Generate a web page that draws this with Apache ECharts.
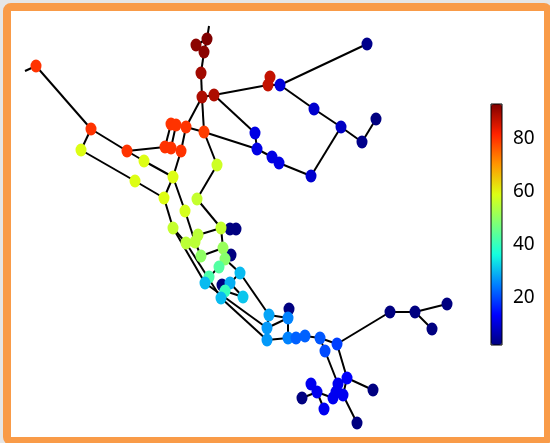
<!DOCTYPE html>
<html>
<head>
<meta charset="utf-8">
<script src="https://cdn.jsdelivr.net/npm/echarts@6/dist/echarts.min.js"></script>
<style>
html,body{margin:0;padding:0;width:550px;height:443px;overflow:hidden;background:#e6e6e6;}
#frame{position:absolute;left:3px;top:3px;width:549px;height:442px;box-sizing:border-box;border:8px solid #f99b48;border-radius:8px;background:#fff;}
#chart{position:absolute;left:0;top:0;width:550px;height:443px;}
</style>
</head>
<body>
<div id="frame"></div>
<div id="chart"></div>
<script>
// node positions (in picture units) and node values
const nodeX = [25,209,231,222,230,236,289,
  36,91,81,127,144,135,164,173,185,171,176,186,204,165,171,181,217,197,
  207,196,204,201,202,214,270,268,280,367,314,341,362,376,255,257,272,279,311,
  173,186,195,198,221,201,223,225,219,240,209,205,230,225,221,243,
  269,288,267,267,288,296,305,320,337,325,390,415,447,432,
  347,338,373,311,317,302,324,333,343,336,357];
const nodeY = [71,26,255,285,229,229,309,
  66,129,150,151,161,181,198,177,211,124,125,127,132,147,148,151,165,199,
  39,45,52,73,97,95,77,85,85,44,109,127,142,119,133,149,157,163,176,
  228,243,242,235,228,256,248,259,267,273,277,283,283,291,298,297,
  315,318,328,340,338,338,336,338,344,351,312,312,304,329,
  378,384,390,384,392,398,409,398,395,392,423];
const nodeValue = [80,93,2,2,1,1,2,
  80,80,59,80,59,59,59,59,58,80,80,80,79,80,80,80,57,56,
  93,92,92,90,89,89,87,87,10,3,9,8,3,2,11,11,11,11,9,
  56,55,55,55,56,50,51,49,43,30,42,30,29,40,30,31,
  28,25,27,27,25,22,22,21,19,20,2,2,2,2,
  13,12,2,12,12,2,12,12,12,12,2];
const stubNodes = [0,1];
const edges = [
  [0,7],[7,8],[8,9],[8,10],[10,11],[11,14],[9,12],[12,13],[10,20],[16,20],[17,21],[17,18],[18,22],[18,19],
  [18,29],[22,14],[14,13],[14,15],[19,29],[19,40],[29,28],[1,25],[25,27],[26,25],[27,28],[29,30],[30,32],
  [31,32],[32,33],[33,34],[33,35],[35,36],[36,37],[37,38],[36,43],[43,42],[42,41],[41,40],[40,39],[30,39],
  [23,24],[19,23],[24,48],
  [13,44],[15,46],[44,45],[45,46],[46,47],[47,48],[46,49],[49,50],[48,50],[50,51],[51,52],[52,54],[54,55],
  [51,53],[53,56],[56,59],[57,59],[56,57],[57,58],[44,55],[45,58],[55,62],[58,63],[53,60],[50,2],[48,4],[4,5],[3,57],
  [60,61],[60,62],[61,62],[61,64],[63,64],[62,63],[6,61],[64,65],[65,66],[66,67],[67,68],[67,69],[68,70],
  [70,71],[71,72],[71,73],[69,75],[68,74],[74,76],[74,75],[79,78],[77,78],[78,81],[78,80],[81,83],[83,75],
  [82,84],[82,74]
];
// colorbar ticks
const barTicks = [20,40,60,80];
const valueMin = 2, valueMax = 93;

const nodeData = nodeX.map((x, i) => [x, nodeY[i], nodeValue[i]])
  .filter((d, i) => !stubNodes.includes(i));
const edgeData = edges.map(([s, t]) => ({ coords: [[nodeX[s], nodeY[s]], [nodeX[t], nodeY[t]]] }));

const chart = echarts.init(document.getElementById('chart'), null, { renderer: 'canvas' });
chart.setOption({
  animation: false,
  backgroundColor: 'transparent',
  grid: [
    { left: 0, top: 0, width: 550, height: 443, show: false },
    { left: 491, top: 104, width: 11, height: 241, show: true, borderColor: '#000', borderWidth: 1, backgroundColor: 'transparent', z: 6 }
  ],
  xAxis: [
    { gridIndex: 0, type: 'value', min: 0, max: 550, show: false },
    { gridIndex: 1, type: 'value', min: 0, max: 1, show: false }
  ],
  yAxis: [
    { gridIndex: 0, type: 'value', min: 0, max: 443, inverse: true, show: false },
    { gridIndex: 1, type: 'value', min: valueMin, max: valueMax, position: 'right',
      axisLine: { show: false }, splitLine: { show: false },
      axisTick: { show: true, length: 5, customValues: barTicks, lineStyle: { color: '#000', width: 1 } },
      axisLabel: { customValues: barTicks, fontSize: 19, color: '#000', fontFamily: 'Noto Sans', margin: 11 } }
  ],
  visualMap: {
    type: 'continuous', min: valueMin, max: valueMax, dimension: 2, seriesIndex: 1,
    left: 491, top: 104, itemWidth: 11, itemHeight: 241, padding: 0,
    calculable: false, hoverLink: false, text: null,
    inRange: { color: ['#000080','#0000ff','#0080ff','#14ffdf','#7aff7a','#ddff14','#ff9600','#ff2200','#800000'] }
  },
  series: [
    { type: 'lines', coordinateSystem: 'cartesian2d', xAxisIndex: 0, yAxisIndex: 0, polyline: false,
      data: edgeData, lineStyle: { color: '#000', width: 2, opacity: 1, curveness: 0 }, silent: true, z: 2 },
    { type: 'scatter', xAxisIndex: 0, yAxisIndex: 0, symbol: 'circle', symbolSize: [11, 13],
      data: nodeData, itemStyle: { opacity: 1, borderWidth: 0 }, silent: true, z: 3 }
  ]
});
</script>
</body>
</html>
